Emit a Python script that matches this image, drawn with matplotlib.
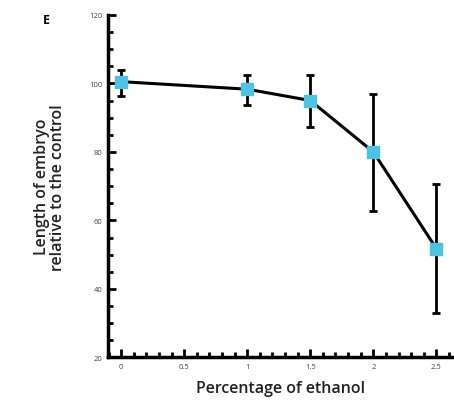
import numpy as np
import matplotlib.pyplot as plt
from matplotlib.ticker import MultipleLocator

# values
ethanol = [0, 1, 1.5, 2, 2.5]
length_rel = [100.5, 98.3, 95.0, 80.0, 51.8]
err_low = [4.2, 4.7, 7.7, 17.2, 18.8]
err_high = [3.3, 4.0, 7.3, 17.0, 18.8]
xticks = [0, 0.5, 1, 1.5, 2, 2.5]
xticklabels = ['0', '0.5', '1', '1.5', '2', '2.5']
yticks = [20, 40, 60, 80, 100, 120]

plt.rcParams['font.family'] = ['Open Sans', 'DejaVu Sans']

fig = plt.figure(figsize=(4.54, 4.06), dpi=100)
ax = fig.add_axes([0.238, 0.117, 0.762, 0.844])

ax.errorbar(ethanol, length_rel, yerr=[err_low, err_high], color='k',
            lw=2.2, elinewidth=2, capsize=3, capthick=2, zorder=2)
ax.plot(ethanol, length_rel, 's', color='#4cc3e3', ms=9, mec='#4cc3e3',
        zorder=3)

ax.set_xlim(-0.104, 2.64)
ax.set_ylim(20, 120)

for side in ['top', 'right']:
    ax.spines[side].set_visible(False)
for side in ['left', 'bottom']:
    ax.spines[side].set_linewidth(2.5)

ax.set_xticks(xticks)
ax.set_xticklabels(xticklabels)
ax.set_yticks(yticks)
ax.xaxis.set_minor_locator(MultipleLocator(0.1))
ax.yaxis.set_minor_locator(MultipleLocator(5))
ax.tick_params(which='major', direction='in', length=6, width=2,
               labelsize=5.5, pad=4, labelcolor='#444444')
ax.tick_params(which='minor', direction='in', length=3.5, width=2)

ax.set_xlabel('Percentage of ethanol', fontsize=11.5, labelpad=7,
              fontweight='semibold', color='#222222')
ax.set_ylabel('Length of embryo\nrelative to the control', fontsize=11.5,
              labelpad=17, linespacing=1.0, fontweight='semibold',
              color='#222222')
fig.text(0.095, 0.94, 'E', fontsize=9, fontweight='bold')

fig.savefig('out.png', dpi=100)
